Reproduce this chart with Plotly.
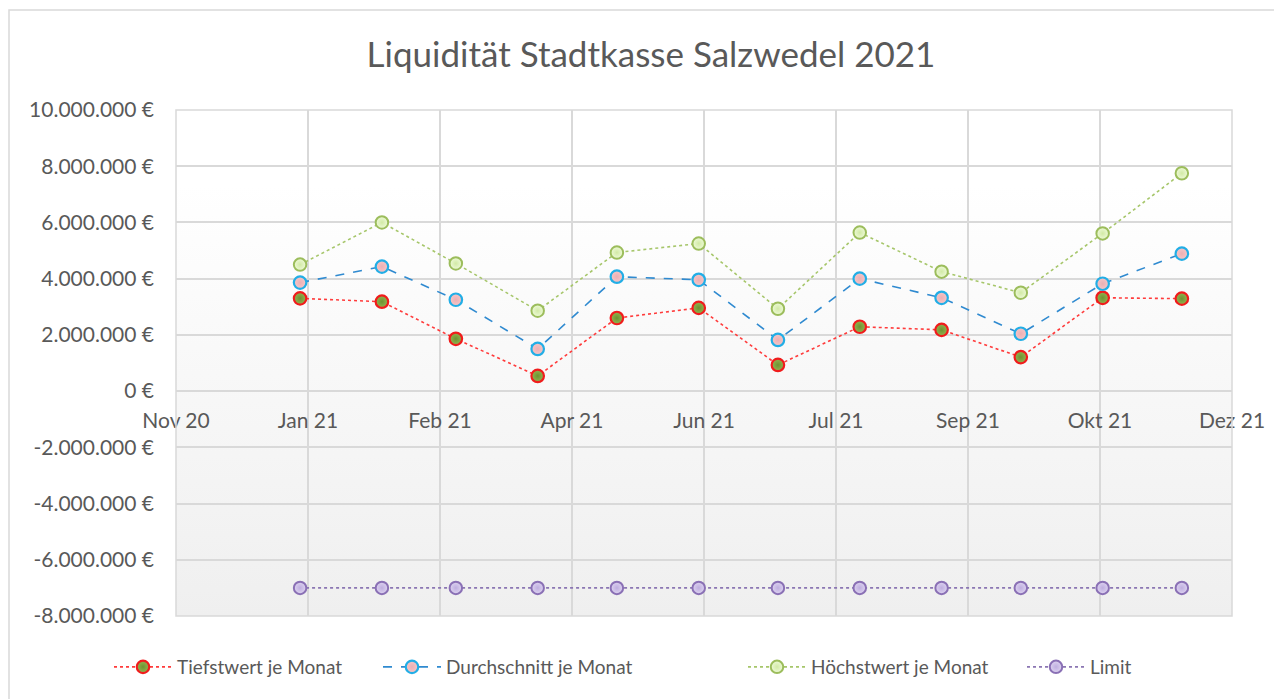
import base64
import pandas as pd
import plotly.graph_objects as go

# ---------------- data ----------------
months = ["2021-01-01", "2021-02-01", "2021-03-01", "2021-04-01", "2021-05-01", "2021-06-01",
          "2021-07-01", "2021-08-01", "2021-09-01", "2021-10-01", "2021-11-01", "2021-12-01"]
tiefstwert = [3300000, 3180000, 1860000, 540000, 2600000, 2960000,
              930000, 2290000, 2180000, 1210000, 3320000, 3290000]
durchschnitt = [3860000, 4430000, 3250000, 1500000, 4070000, 3960000,
                1820000, 4000000, 3320000, 2040000, 3820000, 4890000]
hoechstwert = [4500000, 6000000, 4540000, 2860000, 4930000, 5250000,
               2930000, 5640000, 4250000, 3500000, 5610000, 7750000]
limit = [-7000000] * 12

x_tick_labels = ["Nov 20", "Jan 21", "Feb 21", "Apr 21", "Jun 21", "Jul 21", "Sep 21", "Okt 21", "Dez 21"]
x_tick_start = "2020-11-15"
x_tick_step_days = 50
y_ticks = [-8000000, -6000000, -4000000, -2000000, 0, 2000000, 4000000, 6000000, 8000000, 10000000]

title = "Liquidität Stadtkasse Salzwedel 2021"
names = ["Tiefstwert je Monat", "Durchschnitt je Monat", "Höchstwert je Monat", "Limit"]

# ---------------- layout constants (figure pixels; page adds 8px body margin) ----------------
W, H = 1282, 699
ML, MR, MT, MB = 168, 58, 102, 91
PW, PH = W - ML - MR, H - MT - MB

x_tick_vals = list(pd.date_range(x_tick_start, periods=len(x_tick_labels), freq=f"{x_tick_step_days}D"))
x_range = [x_tick_vals[0], x_tick_vals[-1]]
y_range = [y_ticks[0], y_ticks[-1]]


def fmt_eur(v):
    s = f"{abs(v):,d}".replace(",", ".")
    return ("-" if v < 0 else "") + s + " €"


def px_x(px):
    return (px - ML) / PW


def px_y(py):
    return (H - MB - py) / PH


y_tick_text = [fmt_eur(v) for v in y_ticks]

FONT = "Lato"
TXT = "#595959"
GRID = "#d9d9d9"

fig = go.Figure()

styles = [
    dict(line=dict(color="#ff3b3b", width=1.6, dash="dot"),
         marker=dict(size=12.5, color="#93b550", line=dict(color="#f01c1c", width=2.2),
                     gradient=dict(type="radial", color="#6f9232"))),
    dict(line=dict(color="#2f8ad0", width=1.6, dash="dash"),
         marker=dict(size=12.5, color="#f7c6c8", line=dict(color="#22aee6", width=2.2),
                     gradient=dict(type="radial", color="#eab0b4"))),
    dict(line=dict(color="#a6c66a", width=1.6, dash="dot"),
         marker=dict(size=12.5, color="#eefad8", line=dict(color="#9cbd5c", width=2.0),
                     gradient=dict(type="radial", color="#d2eaa6"))),
    dict(line=dict(color="#8b76b3", width=1.6, dash="dot"),
         marker=dict(size=12.5, color="#ddd3f0", line=dict(color="#8a70b5", width=2.0),
                     gradient=dict(type="radial", color="#bfaee0"))),
]

legend_ids = ["legend", "legend2", "legend3", "legend4"]
legend_starts_px = [104, 373, 738, 1017]   # left edge of each legend entry (figure px)

for name, ys, st, lid in zip(names, [tiefstwert, durchschnitt, hoechstwert, limit], styles, legend_ids):
    fig.add_trace(go.Scatter(x=months, y=ys, name=name, mode="lines+markers",
                             line=st["line"], marker=st["marker"], legend=lid))

# gradient plot background (white at top -> light gray at bottom)
svg = ('<svg xmlns="http://www.w3.org/2000/svg" width="100" height="100" preserveAspectRatio="none">'
       '<defs><linearGradient id="g" x1="0" y1="0" x2="0" y2="1">'
       '<stop offset="0" stop-color="#ffffff"/><stop offset="0.15" stop-color="#ffffff"/>'
       '<stop offset="1" stop-color="#efefef"/></linearGradient></defs>'
       '<rect width="100" height="100" fill="url(#g)"/></svg>')
src = "data:image/svg+xml;base64," + base64.b64encode(svg.encode()).decode()
fig.add_layout_image(dict(source=src, xref="paper", yref="paper", x=0, y=1, sizex=1, sizey=1,
                          sizing="stretch", xanchor="left", yanchor="top", layer="below"))

# plot-area border and chart-area border
fig.add_shape(type="rect", xref="paper", yref="paper", x0=0, x1=1, y0=0, y1=1,
              line=dict(color=GRID, width=1.5), layer="above")
fig.add_shape(type="rect", xref="paper", yref="paper", x0=px_x(1), x1=px_x(W + 20),
              y0=px_y(H + 20), y1=px_y(2),
              line=dict(color="#d9d9d9", width=1.5), layer="below")

zero_pos = (0 - y_range[0]) / (y_range[1] - y_range[0])

legend_common = dict(orientation="h", yanchor="middle", y=px_y(659), xanchor="left",
                     font=dict(family=FONT, size=19, color=TXT), itemwidth=58,
                     bgcolor="rgba(0,0,0,0)")
legends = {}
for lid, sx in zip(legend_ids, legend_starts_px):
    legends[lid] = dict(legend_common, x=px_x(sx - 3))

fig.update_layout(
    width=W, height=H,
    margin=dict(l=ML, r=MR, t=MT, b=MB),
    paper_bgcolor="white",
    plot_bgcolor="rgba(0,0,0,0)",
    font=dict(family=FONT, color=TXT, size=21),
    title=dict(text=title, x=px_x(643), xanchor="center", y=1 - 47 / H, yanchor="middle",
               xref="paper", yref="container", font=dict(family=FONT, size=35, color=TXT)),
    showlegend=True,
    xaxis=dict(type="date", range=x_range, tickvals=x_tick_vals, ticktext=x_tick_labels,
               showgrid=True, gridcolor=GRID, gridwidth=1.5,
               showline=True, linecolor=GRID, linewidth=1.5,
               anchor="free", position=zero_pos,
               ticks="outside", ticklen=11, tickcolor="rgba(0,0,0,0)",
               tickfont=dict(family=FONT, size=21, color=TXT), zeroline=False),
    yaxis=dict(range=y_range, tickvals=y_ticks, ticktext=y_tick_text, domain=[0, 1],
               showgrid=True, gridcolor=GRID, gridwidth=1.5, zeroline=False,
               showline=False, ticks="", ticklabelstandoff=21,
               tickfont=dict(family=FONT, size=21, color=TXT)),
    hovermode="closest",
    **legends,
)

fig.write_html("out.html")
